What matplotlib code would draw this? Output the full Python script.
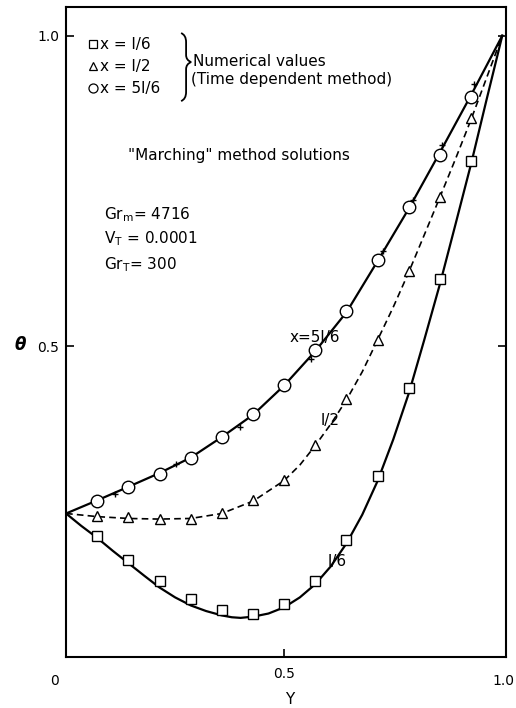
import numpy as np
import matplotlib.pyplot as plt
from matplotlib.path import Path
from matplotlib.patches import PathPatch

# numerical values (time dependent method), Y = k/14
yNum = [1/14, 2/14, 3/14, 4/14, 5/14, 6/14, 7/14, 8/14, 9/14, 10/14, 11/14, 12/14, 13/14]
thSq = [0.195, 0.156, 0.122, 0.093, 0.075, 0.070, 0.086, 0.122, 0.188, 0.292, 0.433, 0.608, 0.799]
thTri = [0.227, 0.226, 0.222, 0.222, 0.231, 0.252, 0.285, 0.342, 0.415, 0.511, 0.621, 0.741, 0.867]
thCirc = [0.251, 0.274, 0.294, 0.320, 0.354, 0.391, 0.438, 0.494, 0.557, 0.639, 0.724, 0.808, 0.902]

# "marching" method solutions
yL6 = [0.0, 0.035, 0.071, 0.107, 0.143, 0.179, 0.214, 0.25, 0.286, 0.321, 0.357, 0.38, 0.40, 0.429,
       0.464, 0.5, 0.536, 0.571, 0.607, 0.643, 0.679, 0.714, 0.75, 0.786, 0.821, 0.857, 0.893, 0.929, 0.964, 1.0]
thL6 = [0.231, 0.211, 0.192, 0.171, 0.151, 0.131, 0.112, 0.096, 0.083, 0.074, 0.067, 0.064, 0.063, 0.065,
        0.070, 0.080, 0.096, 0.117, 0.146, 0.183, 0.229, 0.283, 0.350, 0.425, 0.510, 0.600, 0.697, 0.795, 0.897, 1.0]
yL2 = [0.0, 0.071, 0.143, 0.214, 0.286, 0.357, 0.429, 0.5, 0.536, 0.571, 0.607, 0.643, 0.679, 0.714,
       0.75, 0.786, 0.821, 0.857, 0.893, 0.929, 0.964, 1.0]
thL2 = [0.231, 0.226, 0.223, 0.222, 0.223, 0.231, 0.251, 0.284, 0.309, 0.340, 0.375, 0.414, 0.459, 0.510,
        0.563, 0.620, 0.679, 0.740, 0.802, 0.866, 0.932, 1.0]
yL56 = [0.0, 0.071, 0.143, 0.214, 0.286, 0.357, 0.429, 0.5, 0.571, 0.643, 0.714, 0.786, 0.857, 0.929, 1.0]
thL56 = [0.231, 0.252, 0.274, 0.296, 0.321, 0.354, 0.390, 0.437, 0.492, 0.555, 0.637, 0.722, 0.812, 0.905, 1.0]
yPlus = [0.112, 0.251, 0.398, 0.562, 0.726, 0.795, 0.862, 0.936]
thPlus = [0.262, 0.311, 0.370, 0.479, 0.654, 0.735, 0.824, 0.923]

fig = plt.figure(figsize=(5.16, 7.08), dpi=100)
ax = fig.add_axes([0.128, 0.072, 0.853, 0.918])

ax.plot(yL6, thL6, color='black', lw=1.6)
ax.plot(yL2, thL2, color='black', lw=1.2, linestyle=(0, (4, 2.5)))
ax.plot(yL56, thL56, color='black', lw=1.6)
ax.plot(yPlus, thPlus, '+', color='black', ms=4, mew=1.0)

ax.plot(yNum, thSq, 's', mfc='white', mec='black', mew=1.0, ms=7)
ax.plot(yNum, thTri, '^', mfc='white', mec='black', mew=1.0, ms=7)
ax.plot(yNum, thCirc, 'o', mfc='white', mec='black', mew=1.0, ms=9)

ax.set_xlim(0, 1.009)
ax.set_ylim(0, 1.046)
for s in ax.spines.values():
    s.set_linewidth(1.5)

ax.set_xticks([0.5])
ax.set_xticklabels(['0.5'])
ax.set_yticks([0.5, 1.0])
ax.set_yticklabels(['0.5', '1.0'])
ax.tick_params(direction='in', length=6, width=1.2, labelsize=10, right=True, pad=7)
ax.tick_params(axis='y', pad=5)

ax.annotate('0', xy=(0, 0), xycoords='axes fraction', xytext=(-8, -17),
            textcoords='offset points', ha='center', va='center', fontsize=10)
ax.annotate('1.0', xy=(1.0, 0), xycoords=('data', 'axes fraction'), xytext=(9, -17),
            textcoords='offset points', ha='right', va='center', fontsize=10, annotation_clip=False)

ax.set_xlabel('Y', fontsize=11)
ax.xaxis.set_label_coords(0.507, -0.054)
ax.set_ylabel('θ', rotation=0, fontsize=12, fontweight='bold', fontstyle='italic', va='center')
ax.yaxis.set_label_coords(-0.105, 0.48)

# legend block
tr = ax.transAxes
ax.plot([0.061], [0.943], 's', mfc='white', mec='black', mew=0.9, ms=5.5, transform=tr, clip_on=False)
ax.plot([0.061], [0.909], '^', mfc='white', mec='black', mew=0.9, ms=6, transform=tr, clip_on=False)
ax.plot([0.061], [0.875], 'o', mfc='white', mec='black', mew=0.9, ms=6.5, transform=tr, clip_on=False)
ax.text(0.078, 0.943, 'x = l/6', transform=tr, fontsize=11, va='center')
ax.text(0.078, 0.909, 'x = l/2', transform=tr, fontsize=11, va='center')
ax.text(0.078, 0.875, 'x = 5l/6', transform=tr, fontsize=11, va='center')
ax.text(0.289, 0.917, 'Numerical values', transform=tr, fontsize=11, va='center')
ax.text(0.283, 0.888, '(Time dependent method)', transform=tr, fontsize=11, va='center')


def px(x, y):
    return ((x - 66) / 440.0, (657 - y) / 650.0)


verts = [px(181, 33), px(186, 35), px(186, 42), px(186, 55), px(186, 60), px(191, 62),
         px(186, 64), px(186, 69), px(186, 92), px(186, 99), px(181, 101)]
codes = [Path.MOVETO, Path.CURVE3, Path.CURVE3, Path.LINETO, Path.CURVE3, Path.CURVE3,
         Path.CURVE3, Path.CURVE3, Path.LINETO, Path.CURVE3, Path.CURVE3]
ax.add_patch(PathPatch(Path(verts, codes), fill=False, lw=1.3, color='black',
                       transform=tr, clip_on=False))

ax.text(0.141, 0.772, '"Marching" method solutions', transform=tr, fontsize=11, va='center')
ax.text(0.086, 0.680, r'Gr$_\mathrm{m}$= 4716', transform=tr, fontsize=11, va='center')
ax.text(0.086, 0.643, r'V$_\mathrm{T}$ = 0.0001', transform=tr, fontsize=11, va='center')
ax.text(0.086, 0.603, r'Gr$_\mathrm{T}$= 300', transform=tr, fontsize=11, va='center')

ax.text(0.571, 0.515, 'x=5l/6', fontsize=11, ha='center', va='center')
ax.text(0.606, 0.381, 'l/2', fontsize=11, ha='center', va='center')
ax.text(0.622, 0.153, 'l/6', fontsize=11, ha='center', va='center')

fig.savefig('out.png', dpi=100)
